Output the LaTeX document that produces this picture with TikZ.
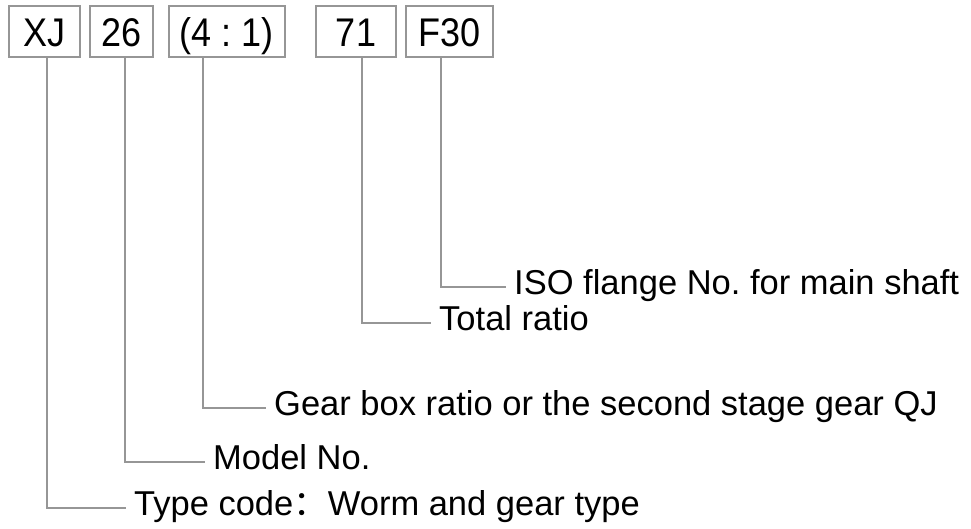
\documentclass[tikz,border=0pt]{standalone}
\usepackage{fontspec}
\setmainfont{Liberation Sans}
\newfontfamily\cjk{Noto Sans CJK SC}
\definecolor{linegray}{RGB}{150,150,150}
\frenchspacing
\begin{document}
\begin{tikzpicture}[x=1pt,y=-1pt,
  codebox/.style={draw=linegray, line width=1.3pt, minimum height=51pt, inner sep=0pt,
    text height=29pt, text depth=0pt, font=\fontsize{40}{42}\selectfont},
  lbl/.style={anchor=west, inner xsep=8pt, inner ysep=0pt, text height=21pt, text depth=6pt,
    font=\fontsize{34.5}{38}\selectfont},
  conn/.style={draw=linegray, line width=1.3pt}]
\useasboundingbox (0,0) rectangle (971,528);
\node[codebox, minimum width=71pt] (b1) at (44.5,31.5) {\scalebox{0.9}[1]{XJ}};
\node[codebox, minimum width=63pt] (b2) at (121.5,31.5) {\scalebox{0.9}[1]{26}};
\node[codebox, minimum width=116pt] (b3) at (227,31.5) {\scalebox{0.9}[1]{(4 : 1)}};
\node[codebox, minimum width=80pt] (b4) at (356,31.5) {\scalebox{0.9}[1]{71}};
\node[codebox, minimum width=87pt] (b5) at (449.5,31.5) {\scalebox{0.9}[1]{F30}};

\node[lbl] (t5) at (506,287) {ISO flange No. for main shaft};
\node[lbl] (t4) at (431,323) {Total ratio};
\node[lbl] (t3) at (266,408) {Gear box ratio or the second stage gear QJ};
\node[lbl] (t2) at (205,462) {Model No.};
\node[lbl] (t1) at (126,508) {Type code{\cjk ：}Worm and gear type};

\draw[conn] ([xshift=2.5pt]b1.south) |- (t1.west);
\draw[conn] ([xshift=3.5pt]b2.south) |- (t2.west);
\draw[conn] ([xshift=-24pt]b3.south) |- (t3.west);
\draw[conn] ([xshift=6pt]b4.south) |- (t4.west);
\draw[conn] ([xshift=-8.5pt]b5.south) |- (t5.west);
\end{tikzpicture}
\end{document}
